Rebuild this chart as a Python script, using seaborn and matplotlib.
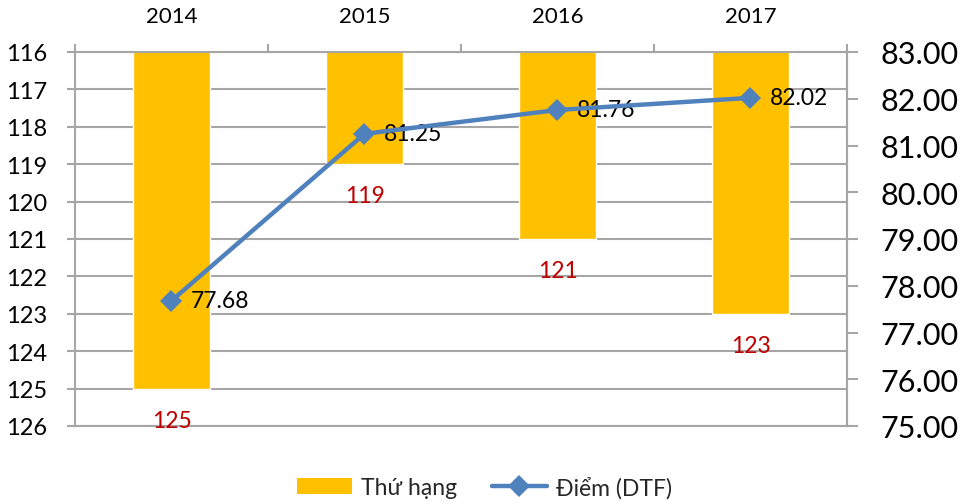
import numpy as np
import pandas as pd
import matplotlib
matplotlib.use("Agg")
import matplotlib.pyplot as plt
import seaborn as sns
from matplotlib.patches import Patch
from matplotlib.lines import Line2D

years = ["2014", "2015", "2016", "2017"]
rank = [125, 119, 121, 123]
score = [77.68, 81.25, 81.76, 82.02]
rank_ticks = list(range(116, 127))
score_ticks = [75, 76, 77, 78, 79, 80, 81, 82, 83]
legend_labels = ["Thứ hạng", "Điểm (DTF)"]

sns.set_theme(style="white")
plt.rcParams['font.family'] = ['Lato', 'DejaVu Sans']

BAR = "#FFC000"
LINE = "#4F81BD"
GRID = "#A6A6A6"
RED = "#C00000"

df = pd.DataFrame({"year": years, "rank": rank, "score": score})

fig = plt.figure(figsize=(9.69, 5.02), dpi=100)
ax = fig.add_axes([75/969, 1-427/502, (847-75)/969, (427-53)/502])

sns.barplot(data=df, x="year", y="rank", color=BAR, width=0.4, ax=ax,
            saturation=1, zorder=2)
ax.set_ylim(126, 116)
ax.set_xlim(-0.5, len(years) - 0.5)
ax.set_yticks(rank_ticks)
ax.set_yticklabels([str(t) for t in rank_ticks])
ax.set_xlabel("")
ax.set_ylabel("")
ax.yaxis.grid(True, color=GRID, linewidth=1.5, zorder=0)
ax.set_axisbelow(True)

# x axis on top
ax.xaxis.tick_top()
ax.set_xticks(range(len(years)))
ax.set_xticklabels(years)
ax.tick_params(axis="x", which="major", length=0, pad=19, labelsize=16,
               colors="black")
ax.set_xticks(np.arange(-0.5, len(years) + 0.5, 1.0), minor=True)
ax.tick_params(axis="x", which="minor", length=6, width=1.5, color=GRID,
               top=True, bottom=False)
ax.tick_params(axis="y", which="major", left=True, length=6, width=1.5,
               color=GRID, pad=14, labelsize=17, labelcolor="black")

for s in ["top", "bottom", "left", "right"]:
    ax.spines[s].set_color(GRID)
    ax.spines[s].set_linewidth(1.5)

# rank labels
for i, r in enumerate(rank):
    ax.text(i, r + 0.85, str(r), color=RED, ha="center", va="center",
            fontsize=16.5)

ax2 = ax.twinx()
sns.lineplot(x=np.arange(len(years)), y=score, ax=ax2, color=LINE,
             linewidth=3.2, marker="D", markersize=11, markeredgewidth=0,
             zorder=5)
ax2.set_ylim(75, 83)
ax2.set_yticks(score_ticks)
ax2.set_yticklabels([f"{t:.2f}" for t in score_ticks])
ax2.tick_params(axis="y", right=True, length=8, width=1.5, color=GRID,
                pad=16, labelsize=22, labelcolor="black")
ax2.set_xlim(-0.5, len(years) - 0.5)
for s in ["top", "bottom", "left", "right"]:
    ax2.spines[s].set_visible(False)
ax2.spines["right"].set_visible(True)
ax2.spines["right"].set_color(GRID)
ax2.spines["right"].set_linewidth(1.5)
ax2.grid(False)

for i, v in enumerate(score):
    ax2.annotate(f"{v:.2f}", (i, v), xytext=(14, 0), textcoords="offset points",
                 ha="left", va="center", fontsize=16.5, color="black")

handles = [Patch(facecolor=BAR, edgecolor="none"),
           Line2D([0], [0], color=LINE, linewidth=3.2, marker="D",
                  markersize=11, markeredgewidth=0)]
fig.legend(handles, legend_labels, loc="center", bbox_to_anchor=(0.5, 1-488/502),
           ncol=2, frameon=False, fontsize=16.5, handlelength=2.4,
           handletextpad=0.4, columnspacing=1.5)

fig.savefig("out.png", dpi=100)
